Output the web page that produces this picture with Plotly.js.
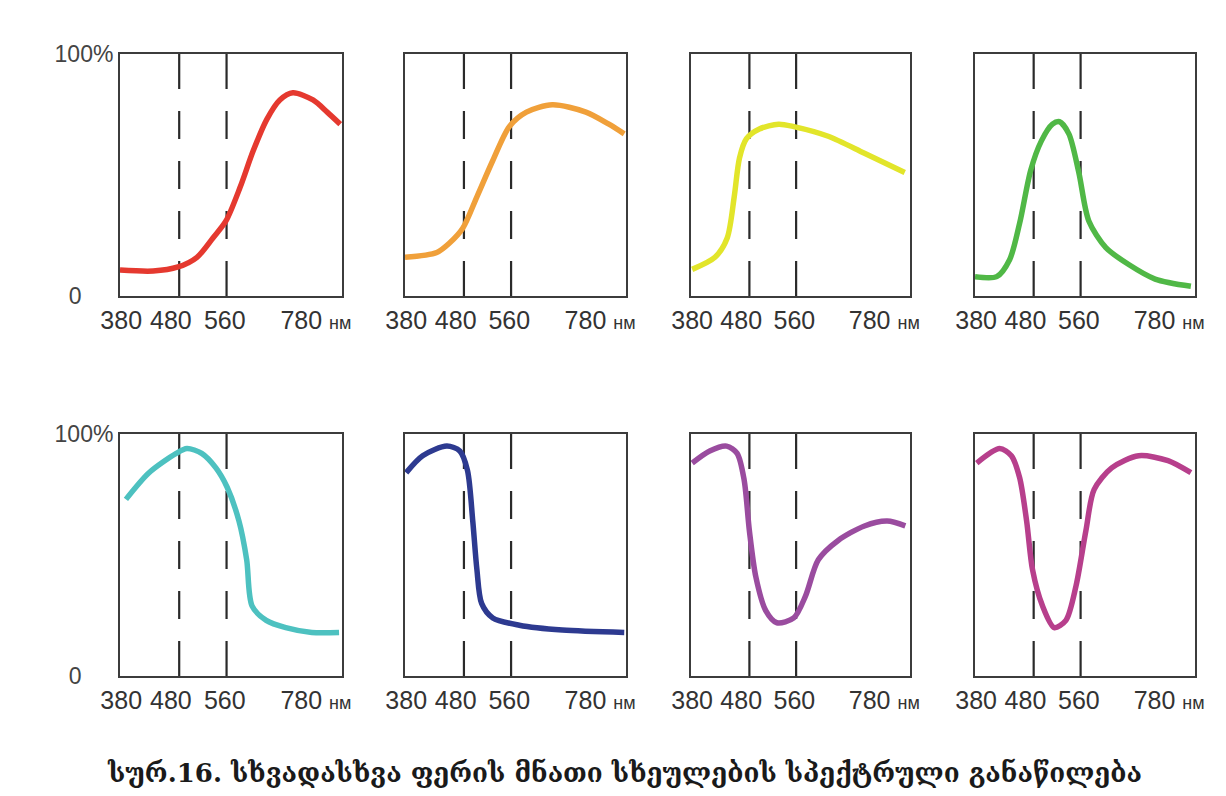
<!DOCTYPE html>
<html>
<head>
<meta charset="utf-8">
<script src="https://cdn.plot.ly/plotly-3.0.1.min.js"></script>
<style>html,body{margin:0;padding:0;background:#fff;}#chart{width:1226px;height:796px;}</style>
</head>
<body>
<div id="chart"></div>
<script>
// Wavelength ticks (schematic axis; label positions as placed in the figure)
const tickValues = [382, 466, 557, 711];
const tickLabels = ['380', '480', '560', '780 <span style="font-size:18px">нм</span>'];
const dashedMarks = [480, 560];

// Spectral curves (x in nm along the schematic axis, y in %)
const redX = [380, 436, 478, 510, 537, 559, 583, 605, 628, 650, 672, 706, 730, 752];
const redY = [10.7, 10.3, 12, 16, 24, 31, 45, 60, 73, 81, 84, 81, 76, 71];

const orangeX = [380, 434, 456, 478, 502, 529, 557, 586, 630, 687, 726, 752];
const orangeY = [16, 18, 22, 28, 41, 56, 70, 76, 79, 76, 71, 67];

const yellowX = [382, 421, 442, 454, 463, 475, 497, 530, 556, 615, 677, 746];
const yellowY = [11, 16, 24, 41, 57, 65, 69, 71, 70, 66, 59, 51];

const greenX = [380, 417, 439, 456, 475, 493, 512, 524, 540, 557, 574, 603, 642, 687, 748];
const greenY = [8, 8, 15, 30, 52, 64, 71, 72, 67, 51, 31, 20, 13, 7, 4];

const cyanX = [390, 429, 475, 493, 518, 542, 561, 581, 594, 603, 627, 660, 704, 750];
const cyanY = [73, 84, 92, 94, 92, 86, 78, 64, 48, 29, 23, 20, 18, 18];

const blueX = [382, 410, 451, 473, 486, 495, 502, 510, 529, 574, 647, 752];
const blueY = [84, 91, 95, 93, 85, 64, 44, 30, 24, 21, 19, 18];

const purpleX = [382, 412, 441, 459, 471, 480, 491, 508, 527, 556, 576, 598, 632, 677, 716, 747];
const purpleY = [88, 93, 95, 92, 81, 60, 41, 27, 22, 24, 33, 48, 56, 62, 64, 62];

const magentaX = [383, 422, 442, 456, 468, 478, 495, 515, 535, 552, 569, 583, 613, 659, 709, 748];
const magentaY = [88, 94, 91, 82, 64, 44, 29, 20, 23, 37, 60, 77, 86, 91, 89, 84];

const seriesX = [redX, orangeX, yellowX, greenX, cyanX, blueX, purpleX, magentaX];
const seriesY = [redY, orangeY, yellowY, greenY, cyanY, blueY, purpleY, magentaY];
const seriesColors = ['#e5392f', '#f0a03a', '#e2e52a', '#50b846', '#4dc1c0', '#2d3a90', '#9a4c9f', '#b73f8c'];

const caption = 'სურ.16. სხვადასხვა ფერის მნათი სხეულების სპექტრული განაწილება';

const W = 1226, H = 796;
const colPx = [[120, 342], [405, 626], [691, 910], [975, 1195]];
const rowPx = [[54, 296], [434, 676]];

const traces = [];
const layout = {
  width: W, height: H,
  margin: {l: 0, r: 0, t: 0, b: 0},
  paper_bgcolor: '#fff', plot_bgcolor: '#fff',
  showlegend: false,
  shapes: [],
  annotations: [],
  font: {family: 'Liberation Sans, Arial, sans-serif', color: '#333'}
};

for (let i = 0; i < 8; i++) {
  const r = Math.floor(i / 4), c = i % 4;
  const n = i + 1;
  const xa = 'xaxis' + (n === 1 ? '' : n);
  const ya = 'yaxis' + (n === 1 ? '' : n);
  const xr = 'x' + (n === 1 ? '' : n);
  const yr = 'y' + (n === 1 ? '' : n);
  layout[xa] = {
    domain: [colPx[c][0] / W, colPx[c][1] / W],
    anchor: yr,
    range: [380, 755],
    showgrid: false, zeroline: false,
    showline: true, mirror: true, linecolor: '#3c3c3c', linewidth: 2,
    ticks: '', tickvals: tickValues, ticktext: tickLabels,
    ticklabelstandoff: 1,
    tickfont: {size: 25, color: '#333', family: 'Liberation Sans, Arial, sans-serif'},
    fixedrange: true
  };
  layout[ya] = {
    domain: [(H - rowPx[r][1]) / H, (H - rowPx[r][0]) / H],
    anchor: xr,
    range: [0, 100],
    showgrid: false, zeroline: false,
    showline: true, mirror: true, linecolor: '#3c3c3c', linewidth: 2,
    ticks: '',
    tickvals: c === 0 ? [0, 100] : [],
    ticktext: c === 0 ? ['0' + '\u00a0'.repeat(5), '100%'] : [],
    showticklabels: c === 0,
    tickfont: {size: 23, color: '#444', family: 'Liberation Sans, Arial, sans-serif'},
    fixedrange: true
  };
  dashedMarks.forEach(v => {
    layout.shapes.push({
      type: 'line', xref: xr, yref: yr + ' domain',
      x0: v, x1: v, y0: 0, y1: 1,
      line: {color: '#2a2a2a', width: 2.2, dash: '35px,22px,28px,22px,28px,22px,28px,22px,35px'},
      layer: 'below'
    });
  });
  traces.push({
    type: 'scatter', mode: 'lines',
    x: seriesX[i], y: seriesY[i],
    xaxis: xr, yaxis: yr,
    line: {color: seriesColors[i], width: 5.5, shape: 'spline', smoothing: 0.8},
    hoverinfo: 'skip'
  });
}

layout.annotations.push({
  xref: 'paper', yref: 'paper', x: 0.509, y: 0.029,
  xanchor: 'center', yanchor: 'middle', showarrow: false,
  text: '<b>' + caption + '</b>',
  font: {size: 26, color: '#1a1a1a', family: 'DejaVu Serif, DejaVu Sans, serif'}
});

Plotly.newPlot('chart', traces, layout, {staticPlot: true, displayModeBar: false});
</script>
</body>
</html>
